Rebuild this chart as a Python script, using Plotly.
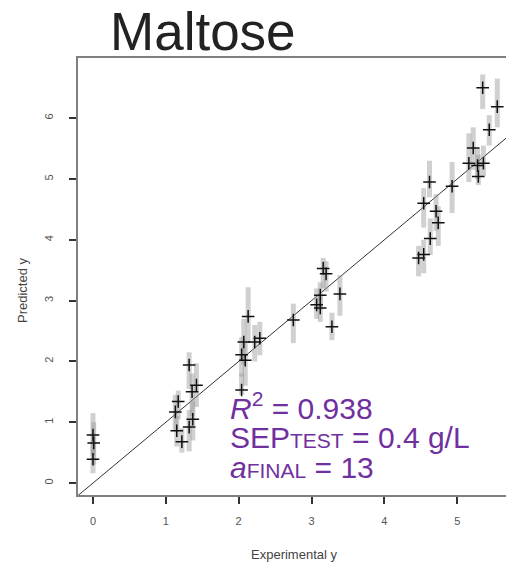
import plotly.graph_objects as go

# Experimental value, mean predicted value, and the low / high end of the repeated predictions
exp_y = [0.00, 0.01, 0.00,
         1.13, 1.17, 1.15, 1.22, 1.32, 1.42, 1.36, 1.37, 1.32,
         2.13, 2.07, 2.22, 2.04, 2.09, 2.04, 2.29,
         2.75,
         3.16, 3.20, 3.12, 3.07, 3.12, 3.28, 3.39,
         4.62, 4.54, 4.71, 4.74, 4.63, 4.47, 4.54, 4.93,
         5.16, 5.22, 5.29, 5.28, 5.36, 5.35, 5.55, 5.44]
pred_mean = [0.79, 0.66, 0.39,
             1.17, 1.34, 0.86, 0.68, 1.94, 1.61, 1.50, 1.05, 0.92,
             2.74, 2.32, 2.32, 2.11, 2.02, 1.53, 2.38,
             2.68,
             3.53, 3.44, 3.09, 2.93, 2.88, 2.57, 3.11,
             4.95, 4.60, 4.47, 4.28, 4.02, 3.70, 3.76, 4.88,
             5.26, 5.51, 5.04, 5.22, 5.26, 6.50, 6.19, 5.81]
pred_lo = [0.45, 0.30, 0.16,
           0.85, 1.05, 0.60, 0.50, 1.55, 1.25, 1.10, 0.70, 0.52,
           2.30, 1.95, 2.00, 1.75, 1.60, 1.45, 2.10,
           2.30,
           3.20, 3.15, 2.85, 2.70, 2.65, 2.35, 2.75,
           4.70, 4.20, 4.15, 3.90, 3.75, 3.40, 3.45, 4.44,
           4.95, 5.15, 4.90, 5.00, 5.05, 6.15, 5.85, 5.55]
pred_hi = [1.15, 1.00, 0.70,
           1.45, 1.52, 1.10, 0.90, 2.15, 1.97, 1.80, 1.35, 1.20,
           3.22, 2.70, 2.60, 2.40, 2.30, 1.80, 2.65,
           2.95,
           3.70, 3.65, 3.30, 3.20, 3.10, 2.80, 3.42,
           5.30, 4.85, 4.75, 4.55, 4.35, 3.90, 4.00, 5.28,
           5.75, 5.85, 5.40, 5.50, 5.55, 6.72, 6.65, 6.05]

x_ticks = [0, 1, 2, 3, 4, 5]
y_ticks = [0, 1, 2, 3, 4, 5, 6]

err_plus = [h - m for h, m in zip(pred_hi, pred_mean)]
err_minus = [m - l for m, l in zip(pred_mean, pred_lo)]

purple = "#7030a0"

fig = go.Figure()

# grey spread of repeated predictions
fig.add_trace(go.Scatter(
    x=exp_y, y=pred_mean, mode="markers",
    marker=dict(size=1, color="rgba(0,0,0,0)"),
    error_y=dict(type="data", symmetric=False, array=err_plus, arrayminus=err_minus,
                 color="rgba(150,150,150,0.45)", thickness=5, width=0),
    hoverinfo="skip", showlegend=False))

# black crosses: mean predictions
fig.add_trace(go.Scatter(
    x=exp_y, y=pred_mean, mode="markers",
    marker=dict(symbol="cross-thin", size=9, line=dict(color="#111111", width=1.5)),
    showlegend=False))

# y = x reference line
fig.add_shape(type="line", xref="x", yref="y", x0=-1, y0=-1, x1=7, y1=7,
              line=dict(color="#333333", width=1), layer="below")

axis_common = dict(showgrid=False, zeroline=False, showline=True, linecolor="#808080",
                   linewidth=1.5, ticks="outside", ticklen=7, tickwidth=1.5,
                   tickcolor="#333333", tickfont=dict(family="Liberation Sans", size=11, color="#555555"))

fig.update_xaxes(range=[-0.206, 5.67], tickvals=x_ticks, mirror=True,
                 ticklabelstandoff=8, **axis_common)
fig.update_yaxes(range=[-0.197, 6.99], tickvals=y_ticks, tickangle=-90,
                 ticklabelstandoff=12, **axis_common)

font_txt = dict(family="Liberation Sans", size=30, color=purple)
sub = '<span style="font-size:21px">{}</span>'
fig.add_annotation(x=1.85, y=1.27, xref="x", yref="y", xanchor="left", yanchor="middle",
                   text="<i>R</i><sup>2</sup> = 0.938", showarrow=False, font=font_txt)
fig.add_annotation(x=1.85, y=0.75, xref="x", yref="y", xanchor="left", yanchor="middle",
                   text="SEP" + sub.format("TEST") + " = 0.4 g/L", showarrow=False, font=font_txt)
fig.add_annotation(x=1.85, y=0.25, xref="x", yref="y", xanchor="left", yanchor="middle",
                   text="<i>a</i>" + sub.format("FINAL") + " = 13", showarrow=False, font=font_txt)

# title and axis titles
fig.add_annotation(x=(203 - 78) / 428, y=(495 - 32) / 437, xref="paper", yref="paper",
                   xanchor="center", yanchor="middle", text="Maltose", showarrow=False,
                   font=dict(family="Liberation Sans", size=53, color="#222222"))
fig.add_annotation(x=(294 - 78) / 428, y=(495 - 554) / 437, xref="paper", yref="paper",
                   xanchor="center", yanchor="middle", text="Experimental y", showarrow=False,
                   font=dict(family="Liberation Sans", size=13, color="#444444"))
fig.add_annotation(x=(22 - 78) / 428, y=(495 - 290) / 437, xref="paper", yref="paper",
                   xanchor="center", yanchor="middle", text="Predicted y", showarrow=False,
                   textangle=-90, font=dict(family="Liberation Sans", size=13, color="#444444"))

fig.update_layout(width=506, height=567, margin=dict(l=78, r=0, t=58, b=72),
                  plot_bgcolor="white", paper_bgcolor="white")

fig.write_html("out.html")
